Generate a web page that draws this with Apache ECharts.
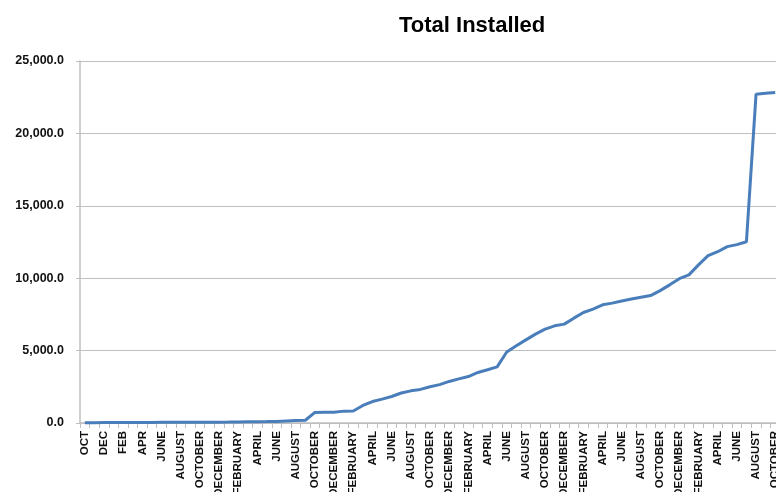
<!DOCTYPE html>
<html>
<head>
<meta charset="utf-8">
<script src="https://cdn.jsdelivr.net/npm/echarts@6/dist/echarts.min.js"></script>
<style>
html,body{margin:0;padding:0;background:#fff;}
#chart{width:776px;height:492px;}
</style>
</head>
<body>
<div id="chart"></div>
<script>
const chartTitle = "Total Installed";

const months = [
  "OCT","NOV","DEC","JAN","FEB","MAR","APR","MAY","JUNE","JULY","AUGUST","SEPTEMBER",
  "OCTOBER","NOVEMBER","DECEMBER","JANUARY","FEBRUARY","MARCH","APRIL","MAY","JUNE","JULY","AUGUST","SEPTEMBER",
  "OCTOBER","NOVEMBER","DECEMBER","JANUARY","FEBRUARY","MARCH","APRIL","MAY","JUNE","JULY","AUGUST","SEPTEMBER",
  "OCTOBER","NOVEMBER","DECEMBER","JANUARY","FEBRUARY","MARCH","APRIL","MAY","JUNE","JULY","AUGUST","SEPTEMBER",
  "OCTOBER","NOVEMBER","DECEMBER","JANUARY","FEBRUARY","MARCH","APRIL","MAY","JUNE","JULY","AUGUST","SEPTEMBER",
  "OCTOBER","NOVEMBER","DECEMBER","JANUARY","FEBRUARY","MARCH","APRIL","MAY","JUNE","JULY","AUGUST","SEPTEMBER",
  "OCTOBER"
];

const totalInstalled = [
  20, 25, 30, 32, 35, 38, 40, 42, 45, 47, 50, 52,
  55, 58, 60, 65, 75, 85, 90, 95, 110, 140, 165, 190,
  730, 740, 740, 820, 830, 1210, 1480, 1650, 1830, 2070, 2220, 2320,
  2500, 2650, 2870, 3050, 3210, 3490, 3680, 3880, 4900, 5330, 5740, 6140,
  6480, 6710, 6830, 7240, 7630, 7860, 8160, 8280, 8430, 8560, 8680, 8800,
  9140, 9540, 9970, 10230, 10920, 11560, 11830, 12180, 12320, 12520, 22700, 22780,
  22820
];

const yMin = 0, yMax = 25000, yStep = 5000;

const chart = echarts.init(document.getElementById('chart'), null, {renderer: 'canvas'});
chart.setOption({
  animation: false,
  backgroundColor: '#ffffff',
  title: {
    text: chartTitle,
    left: 394,
    top: 10,
    textStyle: {fontFamily: 'Liberation Sans, Arial, sans-serif', fontSize: 22, fontWeight: 'bold', color: '#000'}
  },
  grid: {left: 80, right: -4, top: 61, bottom: 69, containLabel: false, outerBoundsMode: 'none'},
  xAxis: {
    type: 'category',
    data: months,
    boundaryGap: true,
    axisLine: {lineStyle: {color: '#bfbfbf', width: 1.5}},
    axisTick: {show: true, interval: 0, alignWithLabel: false, length: 5, lineStyle: {color: '#bfbfbf', width: 1}},
    axisLabel: {
      interval: 1,
      rotate: 90,
      margin: 8,
      color: '#111',
      fontFamily: 'Liberation Sans, Arial, sans-serif',
      fontSize: 11.5,
      fontWeight: 'bold',
      hideOverlap: false
    },
    splitLine: {show: false}
  },
  yAxis: {
    type: 'value',
    min: yMin,
    max: yMax,
    interval: yStep,
    axisLine: {show: true, lineStyle: {color: '#bfbfbf', width: 1.5}},
    axisTick: {show: true, length: 4, lineStyle: {color: '#bfbfbf'}},
    axisLabel: {
      margin: 16,
      color: '#111',
      fontFamily: 'Liberation Sans, Arial, sans-serif',
      fontSize: 12.5,
      fontWeight: 'bold',
      formatter: v => v.toLocaleString('en-US', {minimumFractionDigits: 1, maximumFractionDigits: 1})
    },
    splitLine: {show: true, lineStyle: {color: '#bfbfbf', width: 1.2}}
  },
  series: [{
    type: 'line',
    data: totalInstalled,
    showSymbol: false,
    symbol: 'none',
    lineStyle: {color: '#4a7ebb', width: 3},
    itemStyle: {color: '#4a7ebb'},
    clip: false
  }]
});
</script>
</body>
</html>
